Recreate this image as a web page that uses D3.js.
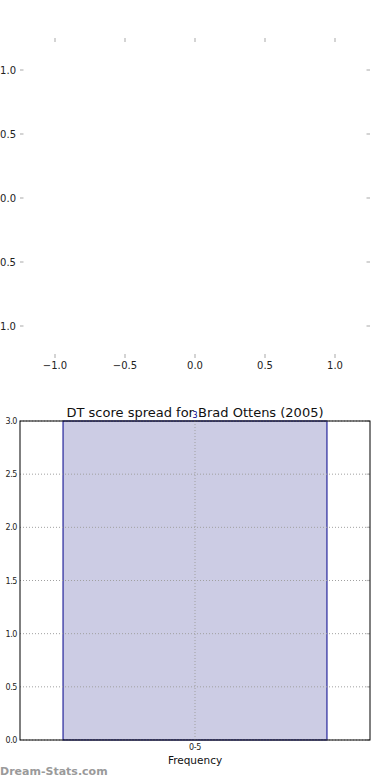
<!DOCTYPE html>
<html><head><meta charset="utf-8">
<script src="https://cdn.jsdelivr.net/npm/d3@7"></script>
<style>html,body{margin:0;padding:0;background:#fff;}svg{display:block;font-family:"DejaVu Sans",sans-serif;}</style>
</head><body>
<script>
const topTicks = [-1.0, -0.5, 0.0, 0.5, 1.0];
const categories = ["0-5"];
const values = [3];
const yTicks = [0, 0.5, 1.0, 1.5, 2.0, 2.5, 3.0];
const title = "DT score spread for Brad Ottens (2005)";
const xLabel = "Frequency";
const watermark = "Dream-Stats.com";

const svg = d3.select("body").append("svg").attr("width",390).attr("height",780);
const fmt = d => (d<0?"\u2212":"") + Math.abs(d).toFixed(1);

// Top (empty) panel
const tx = d3.scaleLinear().domain([-1.25,1.25]).range([20,370]);
const ty = d3.scaleLinear().domain([-1.25,1.25]).range([358,38]);
const topG = svg.append("g");
const tickCol = "#b8b8b8";
topG.selectAll(".xt").data(topTicks).join("line").attr("x1",d=>tx(d)).attr("x2",d=>tx(d)).attr("y1",38).attr("y2",42).attr("stroke",tickCol).attr("stroke-width",1.2);
topG.selectAll(".xb").data(topTicks).join("line").attr("x1",d=>tx(d)).attr("x2",d=>tx(d)).attr("y1",358).attr("y2",354).attr("stroke",tickCol).attr("stroke-width",1.2);
topG.selectAll(".yl").data(topTicks).join("line").attr("x1",20).attr("x2",23.5).attr("y1",d=>ty(d)).attr("y2",d=>ty(d)).attr("stroke",tickCol).attr("stroke-width",1.2);
topG.selectAll(".yr").data(topTicks).join("line").attr("x1",370).attr("x2",366.5).attr("y1",d=>ty(d)).attr("y2",d=>ty(d)).attr("stroke",tickCol).attr("stroke-width",1.2);
topG.selectAll(".xlab").data(topTicks).join("text").attr("x",d=>tx(d)).attr("y",369).attr("text-anchor","middle").attr("font-size",10).attr("fill","#222").text(fmt);
topG.selectAll(".ylab").data(topTicks).join("text").attr("x",16).attr("y",d=>ty(d)+3.5).attr("text-anchor","end").attr("font-size",10).attr("fill","#222").text(fmt);

// Bottom bar panel
const L=20, R=370, T=421, B=740;
const x = d3.scaleBand().domain(categories).range([L,R]).paddingInner(0).paddingOuter(0.163);
const y = d3.scaleLinear().domain([0,3]).range([B,T]);
const g = svg.append("g");
g.selectAll(".bar").data(values).join("rect")
  .attr("x",(d,i)=>x(categories[i])).attr("width",x.bandwidth())
  .attr("y",d=>y(d)).attr("height",d=>B-y(d))
  .attr("fill","#ccccE4").attr("stroke","#00008B").attr("stroke-width",1);
g.selectAll(".gy").data(yTicks).join("line").attr("x1",L).attr("x2",R).attr("y1",d=>y(d)).attr("y2",d=>y(d))
  .attr("stroke","#a0a0a0").attr("stroke-width",1).attr("stroke-dasharray","1,2");
g.selectAll(".gx").data(categories).join("line").attr("x1",d=>x(d)+x.bandwidth()/2).attr("x2",d=>x(d)+x.bandwidth()/2).attr("y1",T).attr("y2",B)
  .attr("stroke","#a0a0a0").attr("stroke-width",1).attr("stroke-dasharray","1,2");
g.selectAll(".rt").data(yTicks).join("line").attr("x1",R).attr("x2",R-3.5).attr("y1",d=>y(d)).attr("y2",d=>y(d)).attr("stroke",tickCol).attr("stroke-width",1.2);
g.append("rect").attr("x",L).attr("y",T).attr("width",R-L).attr("height",B-T).attr("fill","none").attr("stroke","#000").attr("stroke-width",1);
g.selectAll(".yl").data(yTicks).join("text").attr("x",17).attr("y",d=>y(d)+3).attr("text-anchor","end").attr("font-size",8).attr("fill","#222").attr("letter-spacing",-0.4).text(d=>d.toFixed(1));
g.selectAll(".xl").data(categories).join("text").attr("x",d=>x(d)+x.bandwidth()/2).attr("y",750).attr("text-anchor","middle").attr("font-size",8).attr("fill","#222").attr("letter-spacing",-0.4).text(d=>d);
svg.append("text").attr("x",195).attr("y",417).attr("text-anchor","middle").attr("font-size",13).attr("fill","#111").text(title);
g.selectAll(".vl").data(values).join("text").attr("x",(d,i)=>x(categories[i])+x.bandwidth()/2).attr("y",d=>y(d)-3).attr("text-anchor","middle").attr("font-size",8).attr("fill","#00008B").text(d=>d);
svg.append("text").attr("x",195).attr("y",764).attr("text-anchor","middle").attr("font-size",10.5).attr("fill","#111").text(xLabel);
svg.append("text").attr("x",0).attr("y",775).attr("font-size",11).attr("font-weight","bold").attr("fill","#9a9a9a").text(watermark);
</script>
</body></html>
